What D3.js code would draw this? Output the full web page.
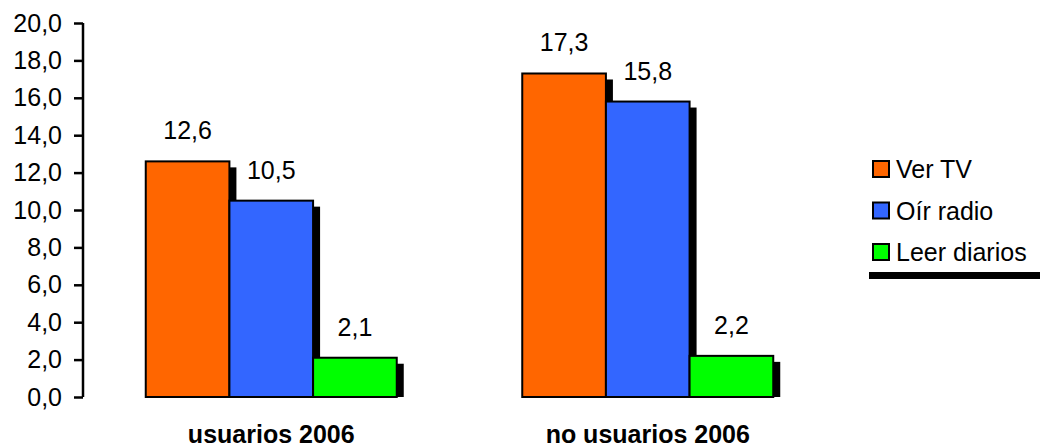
<!DOCTYPE html>
<html>
<head>
<meta charset="utf-8">
<script src="https://cdn.jsdelivr.net/npm/d3@7"></script>
<style>
  html, body { margin: 0; padding: 0; background: #fff; }
  svg { display: block; font-family: "Liberation Sans", Arial, sans-serif; }
</style>
</head>
<body>
<svg id="chart" width="1040" height="448"></svg>
<script>
// Hours per week by activity, users vs non-users
const categories = ["usuarios 2006", "no usuarios 2006"];
const seriesNames = ["Ver TV", "Oír radio", "Leer diarios"];
const verTV = [12.6, 17.3];
const oirRadio = [10.5, 15.8];
const leerDiarios = [2.1, 2.2];
const seriesColors = ["#FF6600", "#3366FF", "#00FF00"];
const yTicks = [0, 2, 4, 6, 8, 10, 12, 14, 16, 18, 20];

const seriesValues = [verTV, oirRadio, leerDiarios];

const es = d3.formatLocale({ decimal: ",", thousands: ".", grouping: [3], currency: ["", " €"] });
const fmt = es.format(".1f");

const svg = d3.select("#chart");
const plot = { left: 83, right: 836, top: 23, bottom: 397 };

const y = d3.scaleLinear().domain([0, 20]).range([plot.bottom, plot.top]);
const x0 = d3.scaleBand().domain(categories).range([plot.left, plot.right]).padding(0);
const x1 = d3.scaleBand().domain(seriesNames).range([0, x0.bandwidth()])
  .paddingInner(0).paddingOuter(0.75);

// Clip bar shadows at the baseline
svg.append("defs").append("clipPath").attr("id", "plotClip")
  .append("rect")
  .attr("x", plot.left).attr("y", 0)
  .attr("width", 1040 - plot.left).attr("height", plot.bottom);

const bars = [];
categories.forEach((c, ci) => {
  seriesNames.forEach((s, si) => {
    bars.push({ cat: c, series: s, value: seriesValues[si][ci], color: seriesColors[si] });
  });
});

const g = svg.append("g");

// Bars with drop shadow
bars.forEach(d => {
  const bx = x0(d.cat) + x1(d.series);
  const by = y(d.value);
  const bw = x1.bandwidth();
  const bh = y(0) - y(d.value);
  g.append("rect")
    .attr("clip-path", "url(#plotClip)")
    .attr("x", bx + 7).attr("y", by + 6)
    .attr("width", bw).attr("height", bh)
    .attr("fill", "#000");
  g.append("rect")
    .attr("x", bx).attr("y", by)
    .attr("width", bw).attr("height", bh)
    .attr("fill", d.color)
    .attr("stroke", "#000").attr("stroke-width", 2);
});

// Value labels
g.selectAll("text.val").data(bars).join("text")
  .attr("class", "val")
  .attr("x", d => x0(d.cat) + x1(d.series) + x1.bandwidth() / 2)
  .attr("y", d => y(d.value) - 22)
  .attr("text-anchor", "middle")
  .attr("font-size", 25)
  .attr("fill", "#000")
  .text(d => fmt(d.value));

// Y axis
const yAxis = d3.axisLeft(y).tickValues(yTicks).tickFormat(fmt).tickSize(9).tickPadding(12);
const ya = svg.append("g").attr("transform", `translate(${plot.left},0)`).call(yAxis);
ya.select(".domain").attr("stroke", "#000").attr("stroke-width", 2.5).attr("d", `M0,${plot.top}V${plot.bottom}`);
ya.selectAll(".tick line").attr("stroke", "#000").attr("stroke-width", 2.5);
ya.selectAll(".tick text").attr("font-size", 25).attr("fill", "#000")
  .attr("font-family", "'Liberation Sans', Arial, sans-serif");

// Category labels
svg.selectAll("text.cat").data(categories).join("text")
  .attr("class", "cat")
  .attr("x", d => x0(d) + x0.bandwidth() / 2)
  .attr("y", 443)
  .attr("text-anchor", "middle")
  .attr("font-size", 25)
  .attr("font-weight", "bold")
  .attr("fill", "#000")
  .text(d => d);

// Legend with shadow
const lg = svg.append("g");
lg.append("rect").attr("x", 869).attr("y", 150).attr("width", 200).attr("height", 129).attr("fill", "#000");
lg.append("rect").attr("x", 863).attr("y", 144).attr("width", 200).attr("height", 128).attr("fill", "#fff");
const rowY = [169, 210.5, 252];
seriesNames.forEach((s, i) => {
  lg.append("rect")
    .attr("x", 873).attr("y", rowY[i] - 8)
    .attr("width", 16).attr("height", 16)
    .attr("fill", seriesColors[i])
    .attr("stroke", "#000").attr("stroke-width", 2);
  lg.append("text")
    .attr("x", 896).attr("y", rowY[i] + 9)
    .attr("font-size", 25)
    .attr("fill", "#000")
    .text(s);
});
</script>
</body>
</html>
